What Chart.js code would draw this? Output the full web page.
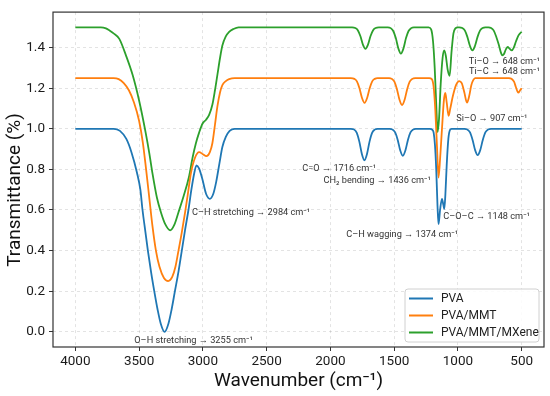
<!DOCTYPE html>
<html>
<head>
<meta charset="utf-8">
<script src="https://cdn.jsdelivr.net/npm/chart.js@4.4.0/dist/chart.umd.min.js"></script>
<style>
  html, body { margin: 0; padding: 0; background: #fff; }
  canvas { display: block; }
</style>
</head>
<body>
<canvas id="ftir-chart" width="550" height="396"></canvas>
<script>
// FTIR spectra, wavenumber (cm-1) vs transmittance
const pvaWave = [4000, 3700, 3650, 3600, 3560, 3517, 3490, 3473, 3450, 3431, 3405, 3381, 3355, 3330, 3300,
  3270, 3245, 3219, 3190, 3165, 3140, 3113, 3090, 3068, 3050, 3030, 3005, 2975, 2945, 2918, 2895, 2870,
  2847, 2820, 2790, 2750,
  1840, 1813, 1793, 1773, 1753, 1733, 1713, 1693, 1673, 1653, 1630,
  1535, 1512, 1492, 1472, 1452, 1432, 1412, 1392, 1372, 1352, 1330,
  1220, 1200, 1190, 1180, 1170, 1160, 1152, 1140, 1125, 1114, 1107, 1098, 1088, 1075, 1062, 1050,
  950, 925, 905, 885, 865, 845, 825, 805, 785, 765, 740, 500];
const pvaT = [1.0, 1.0, 0.99, 0.95, 0.885, 0.785, 0.70, 0.60, 0.49, 0.40, 0.29, 0.20, 0.11, 0.04, 0.0,
  0.04, 0.11, 0.20, 0.30, 0.40, 0.50, 0.60, 0.70, 0.78, 0.82, 0.805, 0.755, 0.68, 0.655, 0.68, 0.74, 0.83,
  0.91, 0.96, 0.99, 1.0,
  1.0, 0.996, 0.98, 0.937, 0.876, 0.845, 0.876, 0.937, 0.98, 0.996, 1.0,
  1.0, 0.996, 0.982, 0.945, 0.893, 0.867, 0.893, 0.945, 0.982, 0.996, 1.0,
  1.0, 0.995, 0.98, 0.92, 0.80, 0.62, 0.53, 0.60, 0.655, 0.625, 0.605, 0.68, 0.82, 0.95, 0.995, 1.0,
  1.0, 0.996, 0.982, 0.945, 0.895, 0.87, 0.895, 0.945, 0.982, 0.996, 1.0, 1.0];

const mmtWave = [4000, 3700, 3660, 3620, 3580, 3540, 3500, 3470, 3445, 3420, 3395, 3368, 3340, 3305, 3272,
  3240, 3215, 3191, 3165, 3139, 3115, 3094, 3060, 3029, 3000, 2972, 2945, 2925, 2905, 2886, 2865, 2847,
  2820, 2794, 2750,
  1840, 1812, 1792, 1772, 1752, 1732, 1712, 1692, 1672, 1652, 1630,
  1540, 1518, 1498, 1478, 1458, 1438, 1418, 1398, 1378, 1358, 1335,
  1225, 1205, 1191, 1177, 1164, 1152, 1140, 1125, 1110, 1099, 1088, 1073, 1060, 1040, 1015, 990, 970,
  950, 929, 912, 895, 880, 865,
  600, 580, 560, 545, 527, 512, 500];
const mmtT = [1.25, 1.25, 1.245, 1.225, 1.19, 1.13, 1.04, 0.93, 0.80, 0.66, 0.52, 0.40, 0.32, 0.265, 0.25,
  0.27, 0.32, 0.40, 0.49, 0.59, 0.69, 0.78, 0.86, 0.885, 0.875, 0.865, 0.885, 0.93, 1.02, 1.11, 1.18, 1.215,
  1.235, 1.245, 1.25,
  1.25, 1.246, 1.234, 1.2, 1.152, 1.128, 1.152, 1.2, 1.234, 1.246, 1.25,
  1.25, 1.246, 1.232, 1.195, 1.143, 1.117, 1.143, 1.195, 1.232, 1.246, 1.25,
  1.25, 1.245, 1.21, 1.09, 0.91, 0.76, 0.85, 1.0, 1.14, 1.177, 1.13, 1.064, 1.10, 1.16, 1.215, 1.235, 1.225,
  1.18, 1.129, 1.16, 1.215, 1.24, 1.25,
  1.25, 1.247, 1.232, 1.205, 1.178, 1.19, 1.20];

const mxeneWave = [4000, 3800, 3760, 3734, 3700, 3655, 3603, 3551, 3499, 3447, 3420, 3395, 3360, 3329, 3295,
  3256, 3225, 3191, 3150, 3110, 3080, 3055, 3030, 3003, 2975, 2950, 2925, 2905, 2886, 2865, 2847, 2820,
  2794, 2760, 2720,
  1830, 1805, 1785, 1765, 1745, 1725, 1705, 1685, 1665, 1645, 1620,
  1550, 1527, 1507, 1487, 1467, 1447, 1427, 1407, 1387, 1367, 1345,
  1230, 1210, 1195, 1182, 1170, 1159, 1148, 1135, 1120, 1107, 1095, 1080, 1065, 1050, 1035, 1020, 1000,
  990, 966, 946, 926, 906, 886, 866, 846, 826, 806, 785,
  760, 740, 720, 700, 680, 660, 651, 640, 625, 610, 595, 578, 562, 545, 525, 510, 500];
const mxeneT = [1.5, 1.5, 1.495, 1.485, 1.47, 1.443, 1.362, 1.266, 1.137, 0.976, 0.88, 0.78, 0.66, 0.589, 0.53,
  0.50, 0.525, 0.589, 0.67, 0.76, 0.86, 0.928, 0.98, 1.025, 1.045, 1.07, 1.12, 1.19, 1.266, 1.35, 1.41, 1.455,
  1.478, 1.492, 1.5,
  1.5, 1.497, 1.486, 1.457, 1.415, 1.394, 1.415, 1.457, 1.486, 1.497, 1.5,
  1.5, 1.496, 1.482, 1.447, 1.396, 1.37, 1.396, 1.447, 1.482, 1.496, 1.5,
  1.5, 1.49, 1.43, 1.30, 1.12, 0.984, 1.05, 1.22, 1.35, 1.386, 1.36, 1.29, 1.261, 1.38, 1.47, 1.495, 1.5,
  1.5, 1.497, 1.485, 1.453, 1.409, 1.386, 1.409, 1.453, 1.485, 1.497, 1.5,
  1.5, 1.497, 1.485, 1.455, 1.415, 1.37, 1.362, 1.367, 1.39, 1.403, 1.395, 1.386, 1.40, 1.43, 1.46, 1.472, 1.478];

const xTickValues = [4000, 3500, 3000, 2500, 2000, 1500, 1000, 500];
const yTickValues = [0, 0.2, 0.4, 0.6, 0.8, 1.0, 1.2, 1.4];

// peak labels, anchored at (wavenumber, transmittance)
const noteText = ['O–H stretching → 3255 cm⁻¹', 'C–H stretching → 2984 cm⁻¹', 'C=O → 1716 cm⁻¹',
  'CH₂ bending → 1436 cm⁻¹', 'C–H wagging → 1374 cm⁻¹', 'C–O–C → 1148 cm⁻¹', 'Si–O → 907 cm⁻¹',
  'Ti–O → 648 cm⁻¹', 'Ti–C → 648 cm⁻¹'];
const noteWave = [3073, 2622, 1931, 1633, 1437, 775, 734, 636, 636];
const noteT = [-0.043, 0.586, 0.802, 0.744, 0.477, 0.565, 1.048, 1.33, 1.282];

Chart.defaults.font.family = 'Roboto, "Noto Sans", sans-serif';
Chart.defaults.color = '#222';

function toPoints(wave, t) {
  return wave.map((w, i) => ({ x: w, y: t[i] }));
}

// frame, in-plot legend, peak notes and axis titles
const decorPlugin = {
  id: 'decor',
  afterDatasetsDraw(chart) {
    const ctx = chart.ctx;
    const area = chart.chartArea;
    const xs = chart.scales.x, ys = chart.scales.y;
    ctx.save();

    // notes
    ctx.fillStyle = '#333';
    ctx.font = '9.2px Roboto';
    ctx.textAlign = 'center';
    ctx.textBaseline = 'middle';
    noteText.forEach((txt, i) => {
      ctx.fillText(txt, xs.getPixelForValue(noteWave[i]), ys.getPixelForValue(noteT[i]));
    });

    // legend box
    const lx = 405, ly = 289, lw = 134, lh = 53;
    ctx.beginPath();
    ctx.roundRect(lx, ly, lw, lh, 3);
    ctx.fillStyle = 'rgba(255,255,255,0.85)';
    ctx.fill();
    ctx.strokeStyle = '#d0d0d0';
    ctx.lineWidth = 1;
    ctx.stroke();
    ctx.font = '12px Roboto';
    ctx.textAlign = 'left';
    chart.data.datasets.forEach((ds, i) => {
      const yy = ly + 9.5 + i * 17;
      ctx.beginPath();
      ctx.moveTo(lx + 4, yy);
      ctx.lineTo(lx + 28, yy);
      ctx.strokeStyle = ds.borderColor;
      ctx.lineWidth = 2;
      ctx.stroke();
      ctx.fillStyle = '#222';
      ctx.fillText(ds.label, lx + 36, yy + 0.5);
    });

    // frame
    ctx.strokeStyle = '#333';
    ctx.lineWidth = 1.2;
    ctx.strokeRect(area.left, area.top, area.right - area.left, area.bottom - area.top);

    // axis titles
    ctx.fillStyle = '#111';
    ctx.font = '19px Roboto';
    ctx.textAlign = 'center';
    ctx.textBaseline = 'middle';
    ctx.fillText('Wavenumber (cm⁻¹)', (area.left + area.right) / 2, 381);
    ctx.translate(15, 190);
    ctx.rotate(-Math.PI / 2);
    ctx.fillText('Transmittance (%)', 0, 0);
    ctx.restore();
  }
};

const lineStyle = { borderWidth: 1.8, pointRadius: 0, fill: false, cubicInterpolationMode: 'monotone' };

const ctx = document.getElementById('ftir-chart').getContext('2d');
const chart = new Chart(ctx, {
  type: 'line',
  data: {
    datasets: [
      { label: 'PVA', data: toPoints(pvaWave, pvaT), borderColor: '#1f77b4', ...lineStyle },
      { label: 'PVA/MMT', data: toPoints(mmtWave, mmtT), borderColor: '#ff7f0e', ...lineStyle },
      { label: 'PVA/MMT/MXene', data: toPoints(mxeneWave, mxeneT), borderColor: '#2ca02c', ...lineStyle }
    ]
  },
  options: {
    responsive: false,
    animation: false,
    devicePixelRatio: 1,
    layout: { padding: { top: 7, right: 6, left: 0, bottom: 0 } },
    plugins: { legend: { display: false }, tooltip: { enabled: false } },
    scales: {
      x: {
        type: 'linear',
        reverse: true,
        min: 325,
        max: 4175,
        afterBuildTicks: axis => { axis.ticks = xTickValues.map(v => ({ value: v })); },
        afterFit: axis => { axis.height = 49; },
        ticks: { font: { size: 13.5 }, color: '#1a1a1a', padding: 3, maxRotation: 0, callback: v => String(v) },
        grid: { color: 'rgba(0,0,0,0.14)', lineWidth: 0.8, tickColor: '#333', tickLength: 4, tickWidth: 1, tickBorderDash: [] },
        border: { display: false, dash: [3, 3] }
      },
      y: {
        min: -0.075,
        max: 1.575,
        afterBuildTicks: axis => { axis.ticks = yTickValues.map(v => ({ value: v })); },
        afterFit: axis => { axis.width = 53; },
        ticks: { font: { size: 13.5 }, color: '#1a1a1a', padding: 4, callback: v => v.toFixed(1) },
        grid: { color: 'rgba(0,0,0,0.14)', lineWidth: 0.8, tickColor: '#333', tickLength: 4, tickWidth: 1, tickBorderDash: [] },
        border: { display: false, dash: [3, 3] }
      }
    }
  },
  plugins: [decorPlugin]
});
</script>
</body>
</html>
